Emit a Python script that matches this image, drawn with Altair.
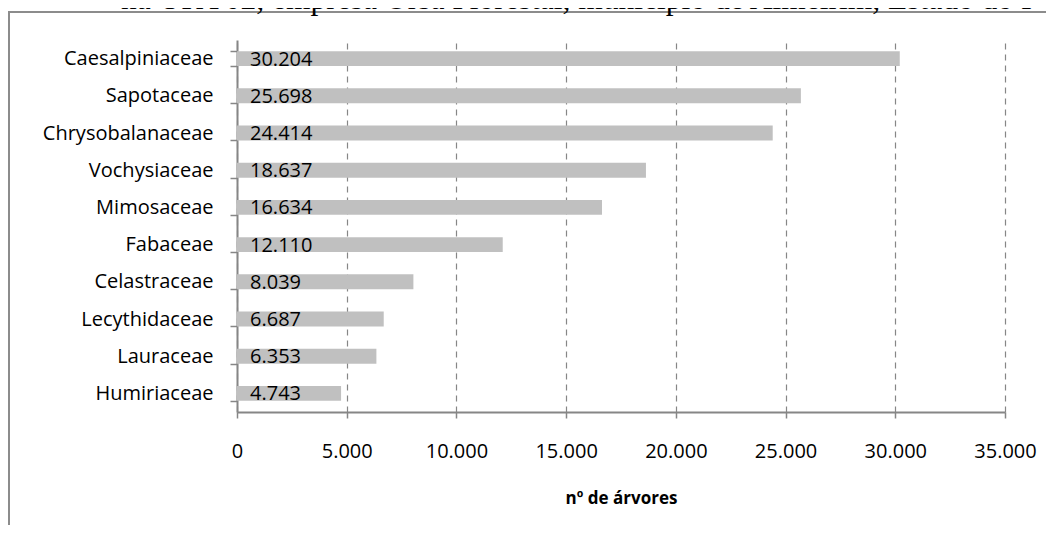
import altair as alt
import pandas as pd

families = ["Caesalpiniaceae", "Sapotaceae", "Chrysobalanaceae", "Vochysiaceae",
            "Mimosaceae", "Fabaceae", "Celastraceae", "Lecythidaceae",
            "Lauraceae", "Humiriaceae"]
counts = [30204, 25698, 24414, 18637, 16634, 12110, 8039, 6687, 6353, 4743]
x_ticks = [0, 5000, 10000, 15000, 20000, 25000, 30000, 35000]
x_title = "nº de árvores"
top_text = "na UPA 02, empresa Orsa Florestal, município de Almeirim, Estado do P"

df = pd.DataFrame({"familia": families, "n": counts})
one = pd.DataFrame({"t": [top_text]})

FONT = "Open Sans"
GRAY = "#868686"
W, H = 768, 372
PAD = {"left": 229, "top": 32, "right": 41, "bottom": 113}

fmt = "replace(format(datum.value, ','), ',', '.')"

base = alt.Chart(df)

bars = base.mark_bar(color="#c0c0c0").encode(
    x=alt.X("n:Q", scale=alt.Scale(domain=[0, 35000], nice=False),
            axis=alt.Axis(values=x_ticks, labelExpr=fmt, title=x_title,
                          labelFlush=False, labelOverlap=False,
                          grid=True, gridDash=[6, 5], gridColor=GRAY, gridWidth=1.2,
                          domainColor=GRAY, domainWidth=2, tickColor=GRAY, tickWidth=1.5,
                          tickSize=6, labelPadding=23, labelFont=FONT, labelFontSize=20,
                          labelColor="#000000", labelBaseline="top",
                          titleFont=FONT, titleFontSize=17, titleFontWeight="bold",
                          titleColor="#000000", titleBaseline="alphabetic",
                          titleX=W / 2, titleY=91, titleAlign="center")),
    y=alt.Y("familia:N", sort=families,
            scale=alt.Scale(paddingInner=0.6, paddingOuter=0.3),
            axis=alt.Axis(title=None, tickBand="extent", tickSize=7, tickColor=GRAY,
                          tickWidth=1.5, domainColor=GRAY, domainWidth=2,
                          labelPadding=17, labelFont=FONT, labelFontSize=20,
                          labelColor="#000000", grid=False)),
)

labels = base.transform_calculate(
    lab="replace(format(datum.n, ','), ',', '.')"
).mark_text(align="left", baseline="middle", dx=13, dy=1, font=FONT,
            fontSize=20, color="#000000").encode(
    x=alt.datum(0),
    y=alt.Y("familia:N", sort=families),
    text="lab:N",
)

frame_top = alt.Chart(one).mark_rule(color="#8c8c8c", strokeWidth=2).encode(
    x=alt.value(-229), x2=alt.value(W + PAD["right"]), y=alt.value(-28))
frame_left = alt.Chart(one).mark_rule(color="#8c8c8c", strokeWidth=2).encode(
    x=alt.value(-228), y=alt.value(-29), y2=alt.value(H + PAD["bottom"]))

title_txt = alt.Chart(one).mark_text(
    align="left", baseline="alphabetic", font="Liberation Serif", fontSize=31.5,
    color="#000000").encode(
    x=alt.value(-116), y=alt.value(-31), text="t:N")

chart = alt.layer(bars, labels, frame_top, frame_left, title_txt).properties(
    width=W, height=H,
    background="white",
    autosize=alt.AutoSizeParams(type="none"),
    padding=PAD,
).configure_view(stroke=None)

chart.save("out.html", embed_options={"renderer": "svg", "actions": False})
